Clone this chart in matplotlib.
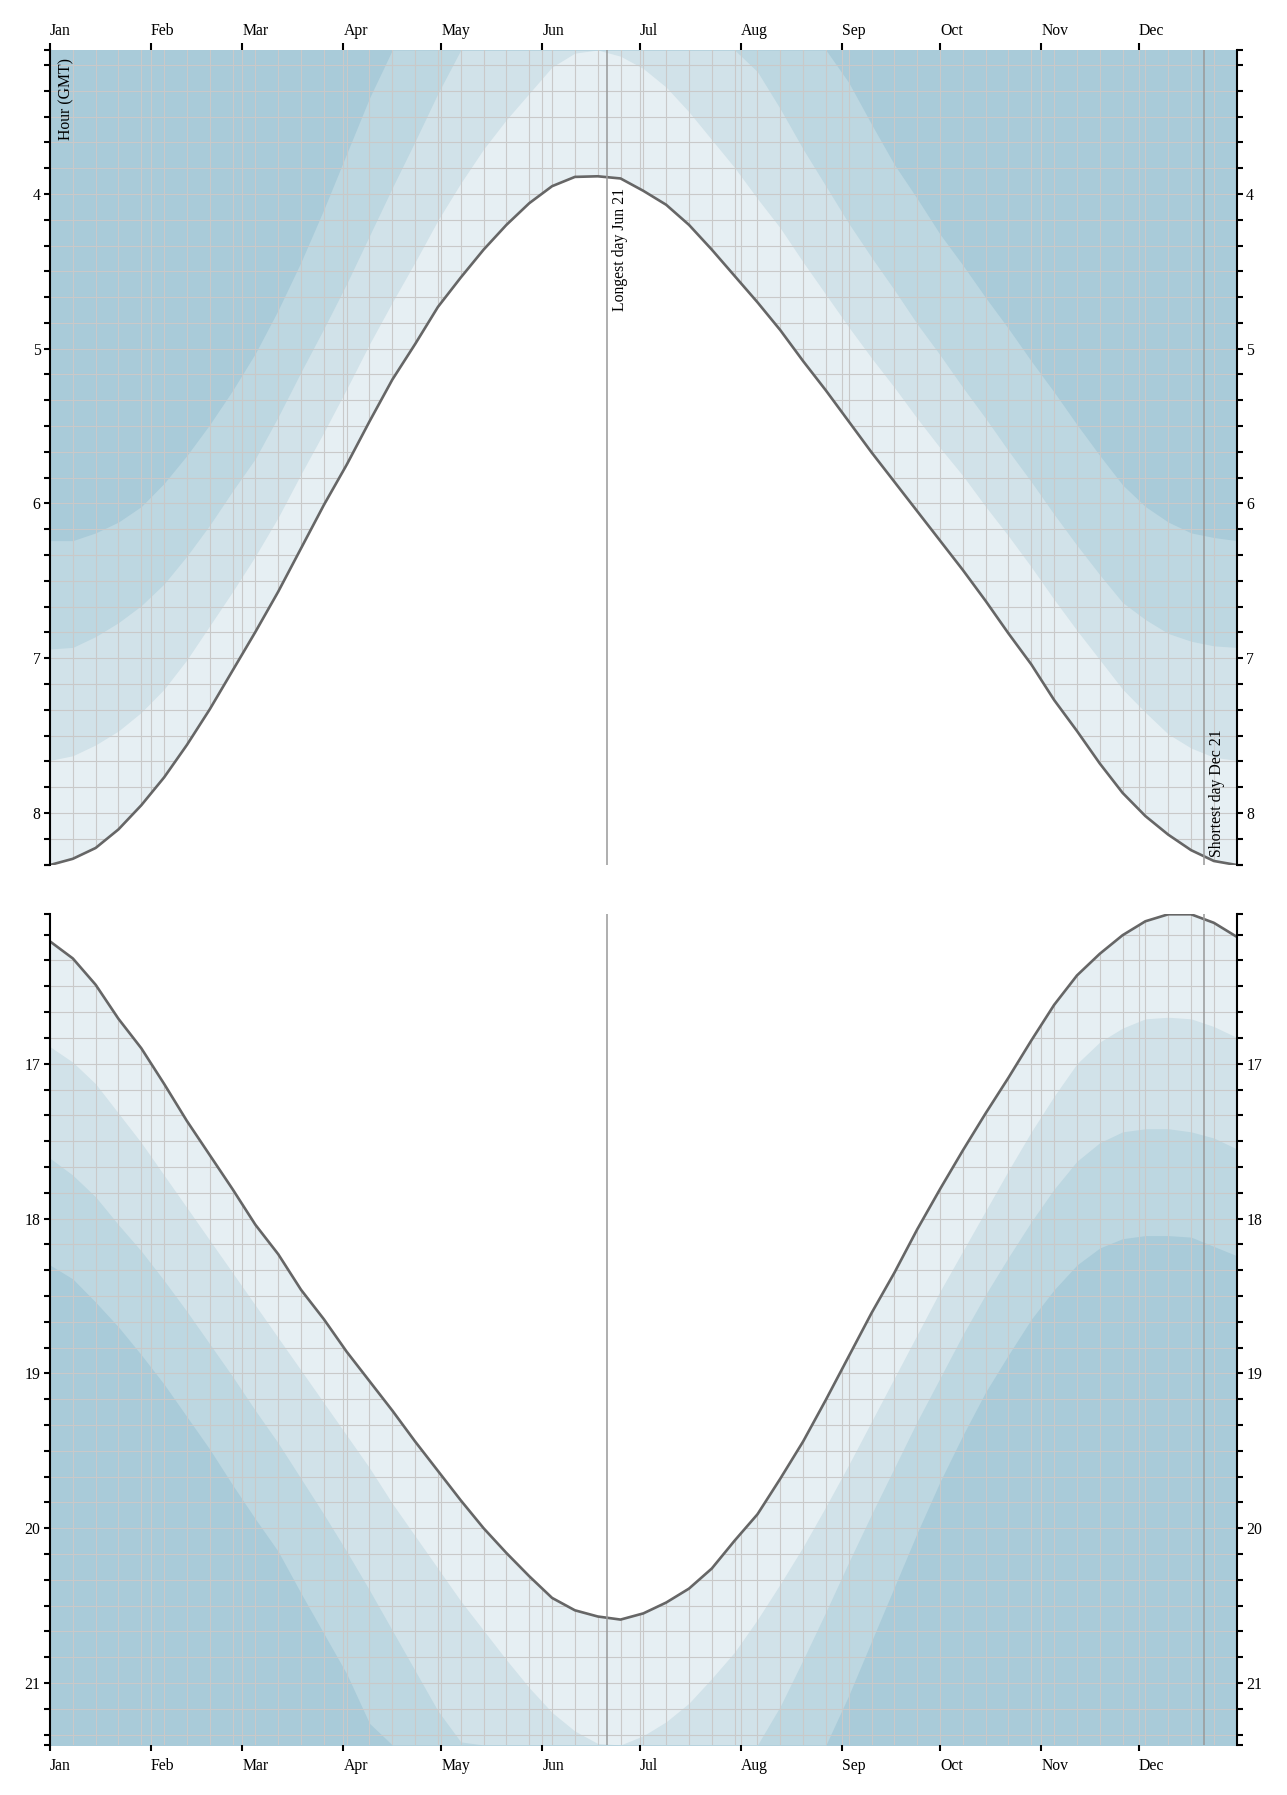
import numpy as np
import matplotlib
matplotlib.use("Agg")
import matplotlib.pyplot as plt

plt.rcParams['font.family'] = ['Liberation Serif', 'DejaVu Serif']

nan = np.nan

# one sample per week, day 0 = Jan 1 (a Sunday)
day = np.arange(0, 365, 7)
months = ['Jan', 'Feb', 'Mar', 'Apr', 'May', 'Jun',
          'Jul', 'Aug', 'Sep', 'Oct', 'Nov', 'Dec']

# hours, GMT
sunrise = [8.336, 8.296, 8.226, 8.106, 7.95, 7.77, 7.56, 7.33, 7.08, 6.83,
           6.57, 6.29, 6.01, 5.75, 5.47, 5.20, 4.97, 4.73, 4.54, 4.36,
           4.20, 4.06, 3.95, 3.89, 3.886, 3.90, 3.98, 4.07, 4.20, 4.36,
           4.53, 4.70, 4.88, 5.08, 5.27, 5.47, 5.67, 5.86, 6.05, 6.24,
           6.43, 6.63, 6.84, 7.04, 7.27, 7.47, 7.68, 7.87, 8.02, 8.14,
           8.24, 8.31, 8.336]
civil_dawn = [7.66, 7.63, 7.56, 7.47, 7.35, 7.20, 7.01, 6.79, 6.57, 6.34,
              6.09, 5.81, 5.54, 5.26, 4.97, 4.70, 4.44, 4.17, 3.93, 3.71,
              3.52, 3.35, 3.18, 3.09, 3.07, 3.11, 3.19, 3.31, 3.47, 3.65,
              3.83, 4.03, 4.22, 4.44, 4.65, 4.86, 5.06, 5.25, 5.45, 5.64,
              5.82, 6.02, 6.21, 6.41, 6.62, 6.82, 7.01, 7.20, 7.35, 7.49,
              7.58, 7.64, 7.66]
nautical_dawn = ([6.94, 6.93, 6.86, 6.77, 6.66, 6.52, 6.34, 6.14, 5.92, 5.71,
                  5.44, 5.15, 4.87, 4.58, 4.27, 3.96, 3.66, 3.35]
                 + [nan] * 13
                 + [3.21, 3.45, 3.71, 3.95, 4.19, 4.41, 4.62, 4.84, 5.04, 5.25,
                    5.45, 5.66, 5.86, 6.07, 6.27, 6.46, 6.64, 6.75, 6.84, 6.89,
                    6.92, 6.93])
astro_dawn = ([6.24, 6.24, 6.19, 6.12, 6.02, 5.87, 5.69, 5.49, 5.27, 5.03,
               4.75, 4.44, 4.10, 3.74, 3.38]
              + [nan] * 20
              + [3.28, 3.55, 3.81, 4.03, 4.26, 4.46, 4.67, 4.87, 5.08, 5.28,
                 5.49, 5.69, 5.88, 6.02, 6.12, 6.19, 6.22, 6.24])

sunset = [16.21, 16.32, 16.49, 16.71, 16.90, 17.13, 17.37, 17.59, 17.81, 18.04,
          18.23, 18.46, 18.65, 18.86, 19.05, 19.24, 19.44, 19.63, 19.82, 20.00,
          20.16, 20.31, 20.45, 20.53, 20.57, 20.59, 20.55, 20.48, 20.39, 20.26,
          20.08, 19.91, 19.68, 19.44, 19.17, 18.89, 18.61, 18.35, 18.07, 17.81,
          17.56, 17.32, 17.09, 16.85, 16.62, 16.43, 16.29, 16.17, 16.08, 16.035,
          16.035, 16.09, 16.18]
civil_dusk = [16.89, 16.99, 17.13, 17.32, 17.51, 17.72, 17.93, 18.14, 18.35, 18.56,
              18.77, 18.98, 19.19, 19.40, 19.61, 19.84, 20.05, 20.26, 20.47, 20.66,
              20.85, 21.03, 21.19, 21.31, 21.39, 21.40, 21.34, 21.25, 21.13, 20.97,
              20.80, 20.59, 20.36, 20.12, 19.86, 19.59, 19.31, 19.03, 18.75, 18.47,
              18.21, 17.95, 17.69, 17.44, 17.21, 17.00, 16.86, 16.77, 16.71, 16.70,
              16.71, 16.76, 16.83]
nautical_dusk = ([17.61, 17.72, 17.86, 18.04, 18.21, 18.40, 18.60, 18.81, 19.02, 19.24,
                  19.45, 19.68, 19.91, 20.15, 20.40, 20.66, 20.92, 21.18, 21.38]
                 + [nan] * 13
                 + [21.15, 20.85, 20.54, 20.22, 19.91, 19.61, 19.31, 19.03, 18.75, 18.49,
                    18.25, 18.02, 17.81, 17.63, 17.51, 17.44, 17.42, 17.42, 17.44, 17.48,
                    17.55])
astro_dusk = ([18.30, 18.39, 18.54, 18.70, 18.88, 19.07, 19.28, 19.49, 19.72, 19.94,
               20.15, 20.42, 20.68, 20.94, 21.26]
              + [nan] * 20
              + [21.08, 20.73, 20.38, 20.03, 19.70, 19.40, 19.12, 18.88, 18.65, 18.46,
                 18.30, 18.19, 18.13, 18.11, 18.11, 18.12, 18.18, 18.24])

longest = np.datetime64('2017-06-21')
shortest = np.datetime64('2017-12-21')

c_night = '#a9cbd9'
c_astro = '#bdd7e1'
c_naut = '#d1e2e9'
c_civil = '#e6eff3'
grid_c = '#c9c9c9'
line_c = '#666666'

dates = np.datetime64('2017-01-01') + day.astype('timedelta64[D]')
start, end = dates[0], dates[-1]
month_ticks = np.arange('2017-01', '2018-01', dtype='datetime64[M]').astype('datetime64[D]')
week_ticks = dates

fig = plt.figure(figsize=(12.87, 17.95), dpi=100)
W = 1287.0
H = 1795.0
ax_top = fig.add_axes([50 / W, 1 - 865 / H, 1186.7 / W, 815 / H])
ax_bot = fig.add_axes([50 / W, 1 - 1745 / H, 1186.7 / W, 830.7 / H])

fs = 11.3


def setup(ax, lo, hi, top):
    ax.set_xlim(start, end)
    ax.set_ylim(hi, lo)
    ax.set_axisbelow(False)
    ax.set_xticks(month_ticks)
    ax.set_xticklabels(months, ha='left', fontsize=fs)
    ax.set_xticks(week_ticks, minor=True)
    major_y = np.arange(np.ceil(lo), np.floor(hi) + 1)
    minor_y = np.arange(np.ceil(lo * 6), np.floor(hi * 6) + 1) / 6.0
    ax.set_yticks(major_y)
    ax.set_yticklabels(['%d' % v for v in major_y], fontsize=fs)
    ax.set_yticks(list(minor_y) + [lo, hi], minor=True)
    ax.grid(True, which='both', color=grid_c, lw=0.8)
    # end ticks of the hour axis carry no grid line
    for t in ax.yaxis.get_minor_ticks()[-2:]:
        t.gridline.set_visible(False)
    ax.tick_params(axis='x', which='minor', length=0)
    if top:
        ax.tick_params(axis='x', which='major', top=True, bottom=False,
                       labeltop=True, labelbottom=False, length=5, width=1.5, pad=3)
    else:
        ax.tick_params(axis='x', which='major', top=False, bottom=True,
                       labeltop=False, labelbottom=True, length=4.3, width=1.5, pad=5)
    ax.tick_params(axis='y', which='both', left=True, right=True,
                   labelleft=True, labelright=True, length=4.3, width=1.5, pad=2.5)
    for side in ['top', 'bottom']:
        ax.spines[side].set_visible(False)
    for side in ['left', 'right']:
        ax.spines[side].set_linewidth(1.5)
        ax.spines[side].set_zorder(5)


# morning panel
lo = min(civil_dawn)
hi = max(sunrise)
setup(ax_top, lo, hi, True)
ax_top.fill_between(dates, lo - 0.1, sunrise, color=c_civil, lw=0, zorder=1)
ax_top.fill_between(dates, lo - 0.1, civil_dawn, color=c_naut, lw=0, zorder=1)
ax_top.fill_between(dates, lo - 0.1, np.nan_to_num(nautical_dawn, nan=lo), color=c_astro, lw=0, zorder=1)
ax_top.fill_between(dates, lo - 0.1, np.nan_to_num(astro_dawn, nan=lo), color=c_night, lw=0, zorder=1)
# daylight hides the grid
ax_top.fill_between(dates, sunrise, hi + 0.1, color='white', lw=0, zorder=2.7)
ax_top.plot(dates, sunrise, color=line_c, lw=1.9, zorder=3)
ax_top.axvline(longest, color='#999999', lw=1.1, zorder=3.5)
ax_top.axvline(shortest, color='#999999', lw=1.1, zorder=3.5)
ax_top.annotate('Hour (GMT)', xy=(0, 1), xycoords='axes fraction', xytext=(6, -6),
                textcoords='offset points', rotation=90, ha='left', va='top',
                fontsize=fs, zorder=6)
ax_top.annotate('Longest day Jun 21', xy=(longest, min(sunrise)), xytext=(3.5, -8),
                textcoords='offset points', rotation=90, ha='left', va='top',
                fontsize=fs, zorder=6)
ax_top.annotate('Shortest day Dec 21', xy=(shortest, hi), xytext=(3.5, 5.5),
                textcoords='offset points', rotation=90, ha='left', va='bottom',
                fontsize=fs, zorder=6)

# evening panel
lo = min(sunset)
hi = max(civil_dusk)
setup(ax_bot, lo, hi, False)
ax_bot.fill_between(dates, sunset, hi + 0.1, color=c_civil, lw=0, zorder=1)
ax_bot.fill_between(dates, civil_dusk, hi + 0.1, color=c_naut, lw=0, zorder=1)
ax_bot.fill_between(dates, np.nan_to_num(nautical_dusk, nan=hi), hi + 0.1, color=c_astro, lw=0, zorder=1)
ax_bot.fill_between(dates, np.nan_to_num(astro_dusk, nan=hi), hi + 0.1, color=c_night, lw=0, zorder=1)
ax_bot.fill_between(dates, lo - 0.1, sunset, color='white', lw=0, zorder=2.7)
ax_bot.plot(dates, sunset, color=line_c, lw=1.9, zorder=3)
ax_bot.axvline(longest, color='#999999', lw=1.1, zorder=3.5)
ax_bot.axvline(shortest, color='#999999', lw=1.1, zorder=3.5)

fig.savefig('out.png', dpi=100)
